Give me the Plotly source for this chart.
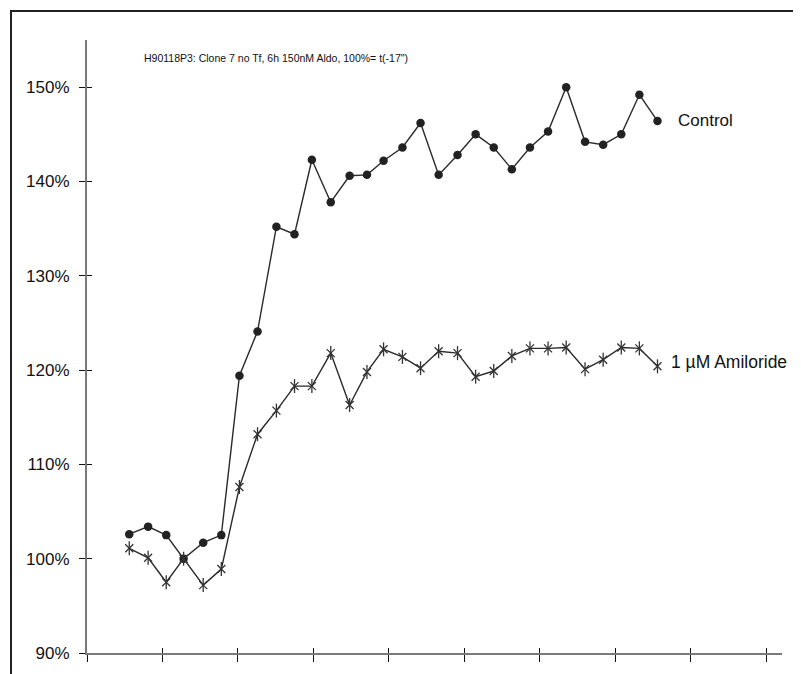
import plotly.graph_objects as go

# time points (axis units; ticks every 1 unit)
times = [0.56, 0.81, 1.05, 1.28, 1.54, 1.78, 2.02, 2.26, 2.51, 2.75,
         2.98, 3.23, 3.48, 3.71, 3.93, 4.18, 4.42, 4.66, 4.91, 5.15,
         5.39, 5.63, 5.87, 6.11, 6.35, 6.60, 6.84, 7.08, 7.32, 7.56]

control = [102.6, 103.4, 102.5, 100.0, 101.7, 102.5, 119.4, 124.1, 135.2, 134.4,
           142.3, 137.8, 140.6, 140.7, 142.2, 143.6, 146.2, 140.7, 142.8, 145.0,
           143.6, 141.3, 143.6, 145.3, 150.0, 144.2, 143.9, 145.0, 149.2, 146.4]

amiloride = [101.1, 100.1, 97.5, 100.0, 97.2, 98.9, 107.6, 113.2, 115.7, 118.3,
             118.3, 121.8, 116.3, 119.8, 122.2, 121.4, 120.2, 122.0, 121.8, 119.3,
             119.9, 121.5, 122.3, 122.3, 122.4, 120.1, 121.1, 122.4, 122.3, 120.4]

y_tick_vals = [90, 100, 110, 120, 130, 140, 150]
y_tick_text = ["90%", "100%", "110%", "120%", "130%", "140%", "150%"]
x_tick_vals = [0, 1, 2, 3, 4, 5, 6, 7, 8, 9]

title_text = 'H90118P3: Clone 7 no Tf, 6h 150nM Aldo, 100%= t(-17")'
series_names = ["Control", "1 µM Amiloride"]

FONT = "Liberation Sans, Arial, sans-serif"
LINE_COL = "#2a2a2a"
STAR_COL = "#333333"

fig = go.Figure()
fig.add_trace(go.Scatter(
    x=times, y=control, mode="lines+markers", name=series_names[0],
    line=dict(color=LINE_COL, width=1.4),
    marker=dict(symbol="circle", size=8.5, color="#222222"),
    showlegend=False, hoverinfo="skip"))
fig.add_trace(go.Scatter(
    x=times, y=amiloride, mode="lines", name=series_names[1],
    line=dict(color=LINE_COL, width=1.4),
    showlegend=False, hoverinfo="skip"))
# asterisk markers (six arms): diagonal cross + vertical bar
fig.add_trace(go.Scatter(
    x=times, y=amiloride, mode="markers", name=series_names[1],
    marker=dict(symbol="x-thin-open", size=8, color=STAR_COL,
                line=dict(color=STAR_COL, width=1.3)),
    showlegend=False, hoverinfo="skip"))
fig.add_trace(go.Scatter(
    x=times, y=amiloride, mode="markers", name=series_names[1],
    marker=dict(symbol="line-ns-open", size=10, color=STAR_COL,
                line=dict(color=STAR_COL, width=1.3)),
    showlegend=False, hoverinfo="skip"))
# dummy trace to make overlay axes (inner tick halves) render
fig.add_trace(go.Scatter(x=[None], y=[None], xaxis="x2", yaxis="y2",
                         showlegend=False, hoverinfo="skip"))

xr = [0, 9.21]
yr = [90, 155]

fig.update_layout(
    width=793, height=666,
    margin=dict(l=79, r=19, t=32, b=21, pad=0),
    paper_bgcolor="white", plot_bgcolor="white",
    font=dict(family=FONT, size=17, color="#111111"),
    xaxis=dict(range=xr, showgrid=False, zeroline=False,
               showline=True, linecolor="#7a7a7a", linewidth=2,
               ticks="outside", ticklen=7, tickwidth=1.3, tickcolor="#111111",
               tickvals=x_tick_vals, showticklabels=False),
    yaxis=dict(range=yr, showgrid=False, zeroline=False,
               showline=True, linecolor="#7a7a7a", linewidth=2,
               ticks="outside", ticklen=6, tickwidth=1.3, tickcolor="#111111",
               tickvals=y_tick_vals, ticktext=y_tick_text, ticklabelstandoff=6,
               tickfont=dict(size=17, family=FONT, color="#111111")),
    xaxis2=dict(overlaying="x", matches="x", anchor="y", range=xr,
                showgrid=False, zeroline=False, showline=False,
                ticks="inside", ticklen=5, tickwidth=1.3, tickcolor="#111111",
                tickvals=x_tick_vals, showticklabels=False),
    yaxis2=dict(overlaying="y", matches="y", anchor="x", side="left", range=yr,
                showgrid=False, zeroline=False, showline=False,
                ticks="inside", ticklen=5, tickwidth=1.3, tickcolor="#111111",
                tickvals=y_tick_vals, showticklabels=False),
    shapes=[dict(type="rect", xref="paper", yref="paper",
                 x0=-0.10935, x1=1.3, y0=-0.3, y1=1.04731,
                 line=dict(color="#222222", width=2), layer="below")],
    annotations=[
        dict(text=title_text, xref="paper", yref="paper", x=0.0791, y=0.9706,
             xanchor="left", yanchor="middle", showarrow=False,
             font=dict(size=10.5, family=FONT, color="#111111")),
        dict(text=series_names[0], xref="x", yref="y", x=7.81, y=146.5,
             xanchor="left", yanchor="middle", showarrow=False,
             font=dict(size=17, family=FONT, color="#111111")),
        dict(text=series_names[1], xref="x", yref="y", x=7.71, y=120.85,
             xanchor="left", yanchor="middle", showarrow=False,
             font=dict(size=17.5, family=FONT, color="#111111")),
    ],
)

fig.write_html("out.html")
